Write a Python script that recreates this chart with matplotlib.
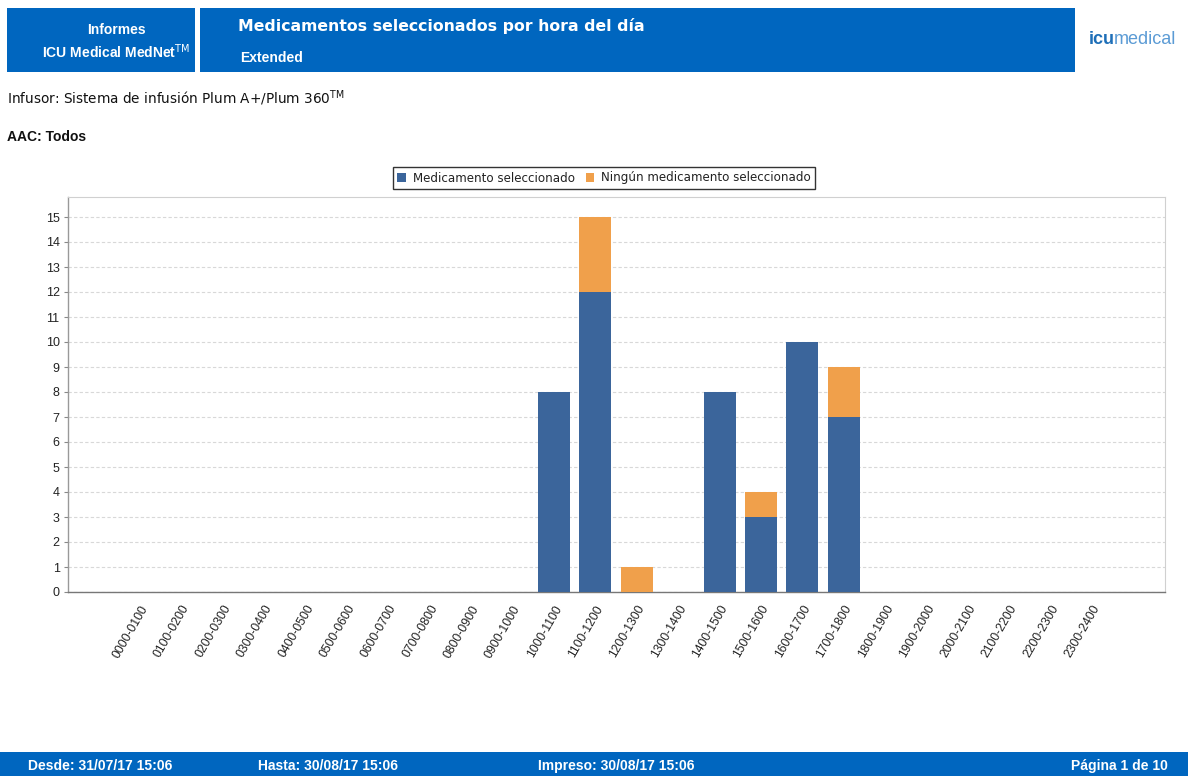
import matplotlib
matplotlib.use("Agg")
import matplotlib.pyplot as plt
from matplotlib.patches import Rectangle, Patch

plt.rcParams['font.family'] = ['Liberation Sans', 'DejaVu Sans']
WIDE = ['DejaVu Sans']

categories = ["0000-0100", "0100-0200", "0200-0300", "0300-0400", "0400-0500",
              "0500-0600", "0600-0700", "0700-0800", "0800-0900", "0900-1000",
              "1000-1100", "1100-1200", "1200-1300", "1300-1400", "1400-1500",
              "1500-1600", "1600-1700", "1700-1800", "1800-1900", "1900-2000",
              "2000-2100", "2100-2200", "2200-2300", "2300-2400"]
selected = [0, 0, 0, 0, 0, 0, 0, 0, 0, 0, 8, 12, 0, 0, 8, 3, 10, 7, 0, 0, 0, 0, 0, 0]
not_selected = [0, 0, 0, 0, 0, 0, 0, 0, 0, 0, 0, 3, 1, 0, 0, 1, 0, 2, 0, 0, 0, 0, 0, 0]
y_ticks = list(range(0, 16))

BLUE = "#3B659B"
ORANGE = "#F0A04B"
HEADER = "#0066BF"

W, H = 1188, 776
fig = plt.figure(figsize=(W / 100, H / 100), dpi=100)
fig.patch.set_facecolor("white")

def fx(px):
    return px / W

def fy(py):
    return 1 - py / H

# Header boxes
fig.patches.append(Rectangle((fx(7), fy(72)), fx(188), 64 / H, transform=fig.transFigure,
                             facecolor=HEADER, edgecolor="none"))
fig.patches.append(Rectangle((fx(200), fy(72)), fx(875), 64 / H, transform=fig.transFigure,
                             facecolor=HEADER, edgecolor="none"))
fig.text(fx(116), fy(30), "Informes", color="white", fontsize=10, fontweight="bold",
         ha="center", va="center")
fig.text(fx(116), fy(52), r"ICU Medical MedNet$^{\mathrm{TM}}$", color="white", fontsize=10,
         fontweight="bold", ha="center", va="center")
fig.text(fx(238), fy(26), "Medicamentos seleccionados por hora del día", color="white",
         fontsize=11.3, fontweight="bold", ha="left", va="center", family=WIDE)
fig.text(fx(240), fy(58), "Extended", color="white", fontsize=10, fontweight="bold",
         ha="left", va="center")
# Logo
fig.text(fx(1089), fy(40), "icu", color="#1E6FB8", fontsize=13, fontweight="bold",
         ha="left", va="center")
fig.text(fx(1114), fy(40), "medical", color="#5B9BD5", fontsize=13,
         ha="left", va="center")

fig.text(fx(7), fy(98), r"Infusor: Sistema de infusión Plum A+/Plum 360$^{\mathrm{TM}}$",
         fontsize=9.8, ha="left", va="center", color="#111111", family=WIDE)
fig.text(fx(7), fy(137), "AAC: Todos", fontsize=10, fontweight="bold", ha="left", va="center",
         color="#111111")

# Footer
fig.patches.append(Rectangle((0, 0), 1, 24 / H, transform=fig.transFigure,
                             facecolor=HEADER, edgecolor="none"))
for xp, txt, ha in [(28, "Desde: 31/07/17 15:06", "left"),
                    (258, "Hasta: 30/08/17 15:06", "left"),
                    (538, "Impreso: 30/08/17 15:06", "left"),
                    (1168, "Página 1 de 10", "right")]:
    fig.text(fx(xp), fy(766), txt, color="white", fontsize=10, fontweight="bold",
             ha=ha, va="center")

# Chart
ax = fig.add_axes([fx(68), fy(592), fx(1165 - 68), (592 - 197) / H])
x = list(range(len(categories)))
ax.bar(x, selected, width=0.77, color=BLUE, label="Medicamento seleccionado", zorder=3)
ax.bar(x, not_selected, width=0.77, bottom=selected, color=ORANGE,
       label="Ningún medicamento seleccionado", zorder=3)

ax.set_xlim(-1.74, 24.76)
ax.set_ylim(0, 15.8)
ax.set_yticks(y_ticks)
ax.set_yticklabels([str(v) for v in y_ticks], fontsize=9, color="#222222")
ax.set_xticks(x)
ax.set_xticklabels(categories, rotation=60, ha="right", rotation_mode="anchor",
                   fontsize=8.8, color="#222222")
ax.tick_params(axis="x", length=0, pad=8)
ax.tick_params(axis="y", length=3, color="#888888", pad=3)
ax.grid(axis="y", color="#D8D8D8", linestyle=(0, (3, 2)), linewidth=0.8, zorder=0)
for side in ["top", "right"]:
    ax.spines[side].set_color("#D0D0D0")
    ax.spines[side].set_linewidth(0.8)
ax.spines["left"].set_color("#999999")
ax.spines["bottom"].set_color("#777777")
ax.spines["left"].set_linewidth(1.0)
ax.spines["bottom"].set_linewidth(1.0)

handles = [Patch(facecolor=BLUE, label="Medicamento seleccionado"),
           Patch(facecolor=ORANGE, label="Ningún medicamento seleccionado")]
leg = fig.legend(handles=handles, loc="center", bbox_to_anchor=(fx(604), fy(178)), ncol=2,
                 prop={'family': WIDE, 'size': 8.6}, frameon=True, fancybox=False,
                 edgecolor="black",
                 handlelength=0.7, handleheight=0.7, handletextpad=0.6, columnspacing=0.9,
                 borderpad=0.35)
leg.get_frame().set_linewidth(1.0)
for t in leg.get_texts():
    t.set_color("#222222")

fig.savefig("out.png", dpi=100, facecolor="white")
